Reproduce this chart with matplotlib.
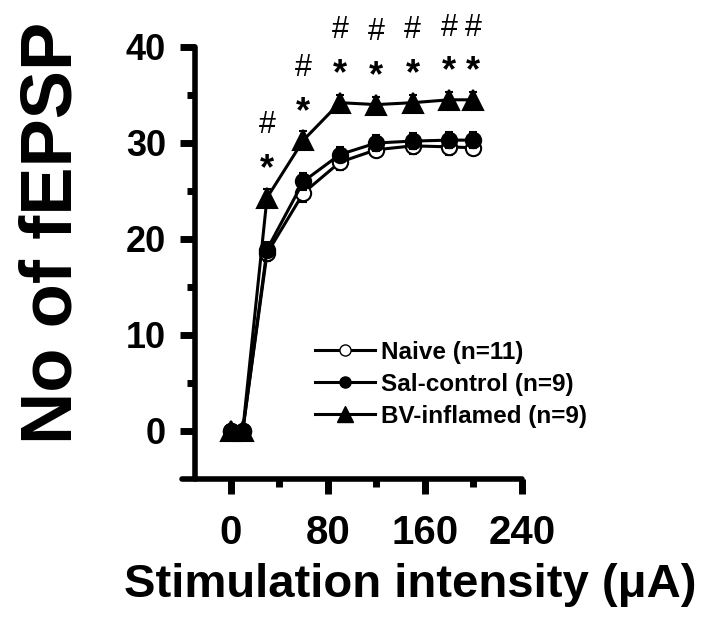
import matplotlib
matplotlib.use("Agg")
from matplotlib import pyplot as plt
from matplotlib.lines import Line2D
from matplotlib.ticker import FixedLocator

plt.rcParams['font.family'] = ['Liberation Sans', 'DejaVu Sans']

# stimulation intensity (uA)
intensity = [0, 10, 30, 60, 90, 120, 150, 180, 200]

naive = [0, 0, 18.5, 24.8, 28.0, 29.3, 29.7, 29.6, 29.5]
naive_sem = [0.3, 0.3, 0.8, 0.9, 0.8, 0.8, 0.8, 0.8, 0.8]
sal = [0, 0, 18.9, 26.0, 28.8, 30.0, 30.2, 30.3, 30.3]
sal_sem = [0.3, 0.3, 0.8, 0.9, 0.8, 0.8, 0.8, 0.8, 0.8]
bv = [0, 0, 24.3, 30.3, 34.2, 34.0, 34.2, 34.5, 34.5]
bv_sem = [0.4, 0.4, 0.9, 0.9, 0.8, 0.8, 0.8, 0.8, 0.8]

# significance marks above the BV-inflamed points
star_x = [30, 60, 90, 120, 150, 180, 200]
hash_x = [30, 60, 90, 120, 150, 180, 200]

labels = ['Naive (n=11)', 'Sal-control (n=9)', 'BV-inflamed (n=9)']

fig = plt.figure(figsize=(7.09, 6.24), dpi=100)
ax = fig.add_axes([182 / 709, 1 - 479 / 624, 340 / 709, 432 / 624])

kw = dict(color='black', lw=2.2, capsize=3, elinewidth=1.5, capthick=1.5, markeredgewidth=1.5)
ax.errorbar(intensity, naive, yerr=naive_sem, marker='o', ms=11, mfc='white', mec='black', zorder=3, **kw)
ax.errorbar(intensity, sal, yerr=sal_sem, marker='o', ms=11, mfc='black', mec='black', zorder=4, **kw)
ax.errorbar(intensity, bv, yerr=bv_sem, marker='^', ms=14, mfc='black', mec='black', zorder=5, **kw)

for x in star_x:
    y = bv[intensity.index(x)]
    ax.annotate('*', (x, y), xytext=(0, 20), textcoords='offset points', ha='center', va='center',
                fontsize=26, fontweight='bold', annotation_clip=False)
for x in hash_x:
    y = bv[intensity.index(x)]
    ax.annotate('#', (x, y), xytext=(0, 52), textcoords='offset points', ha='center', va='center',
                fontsize=22, annotation_clip=False)

ax.set_xlim(-40, 240)
ax.set_ylim(-5, 40)
ax.spines['top'].set_visible(False)
ax.spines['right'].set_visible(False)
ax.spines['left'].set_position(('data', -29))
ax.spines['left'].set_bounds(-5, 40)
ax.spines['left'].set_linewidth(4)
ax.spines['bottom'].set_linewidth(4)
ax.spines['left'].set_capstyle('round')
ax.spines['bottom'].set_capstyle('round')

ax.set_xticks([0, 80, 160, 240])
ax.set_yticks([0, 10, 20, 30, 40])
ax.xaxis.set_minor_locator(FixedLocator([40, 120, 200]))
ax.yaxis.set_minor_locator(FixedLocator([5, 15, 25, 35]))
ax.tick_params(which='major', length=11, width=5, direction='out')
ax.tick_params(which='minor', length=6, width=5, direction='out')
ax.tick_params(axis='y', which='major', labelsize=26, pad=10)
ax.tick_params(axis='x', which='major', labelsize=29, pad=14)
for t in ax.get_xticklabels() + ax.get_yticklabels():
    t.set_fontweight('bold')

ax.set_ylabel('No of fEPSP', fontsize=52, fontweight='bold')
ax.yaxis.set_label_coords(-0.28, 0.569)
ax.set_xlabel('Stimulation intensity (\u03bcA)', fontsize=34, fontweight='bold')
ax.xaxis.set_label_coords(0.67, -0.195)

handles = [
    Line2D([], [], color='black', lw=2.2, marker='o', ms=8, mfc='white', mec='black'),
    Line2D([], [], color='black', lw=2.2, marker='o', ms=8, mfc='black', mec='black'),
    Line2D([], [], color='black', lw=2.2, marker='^', ms=11, mfc='black', mec='black'),
]
leg = ax.legend(handles, labels, loc='upper left', bbox_to_anchor=(315 / 709, 1 - 341 / 624),
                bbox_transform=fig.transFigure, frameon=False, fontsize=17.5, handlelength=2.45,
                handletextpad=0.25, labelspacing=0.37, borderpad=0, borderaxespad=0)
for t in leg.get_texts():
    t.set_fontweight('bold')

fig.savefig('out.png', dpi=100)
